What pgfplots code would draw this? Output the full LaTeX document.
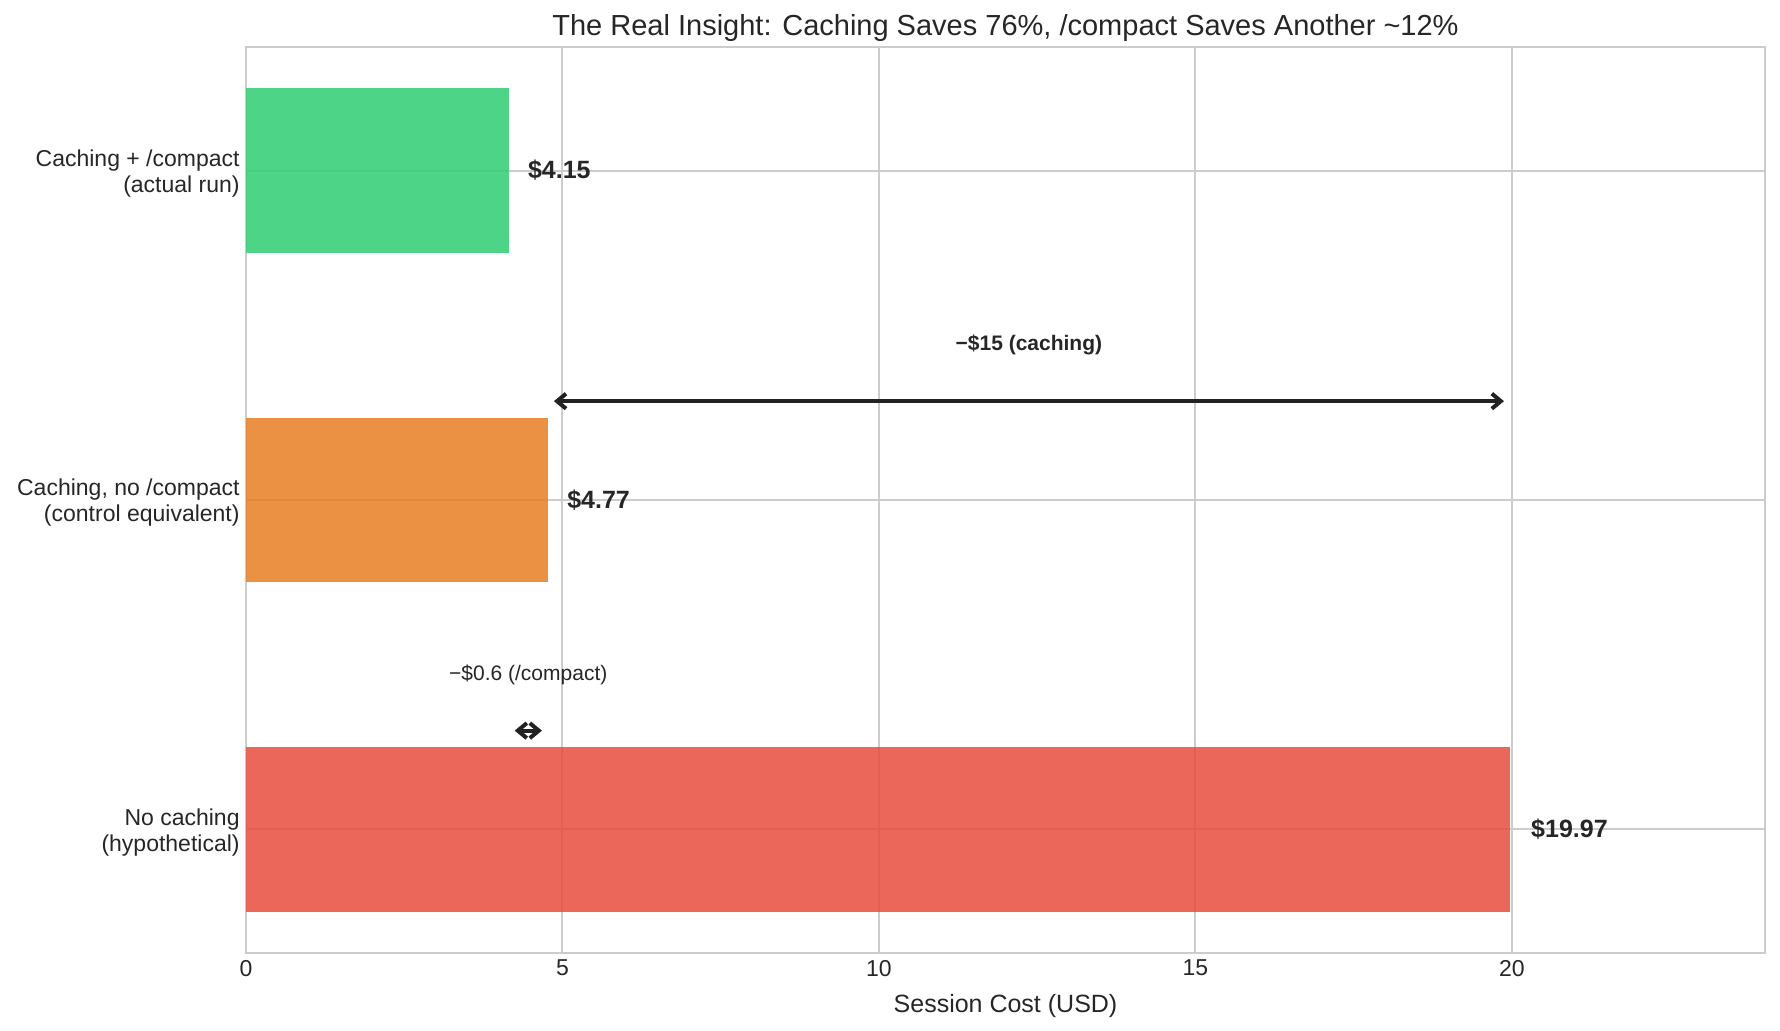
\documentclass[border=0pt]{standalone}
\usepackage{fontspec}
\setmainfont{Liberation Sans}
\usepackage{pgfplots}
\pgfplotsset{compat=1.18}
\usetikzlibrary{arrows.meta}
\definecolor{cgreen}{HTML}{2ECC71}
\definecolor{corange}{HTML}{E67E22}
\definecolor{cred}{HTML}{E74C3C}
\definecolor{gridc}{RGB}{204,204,204}
\definecolor{txt}{RGB}{38,38,38}
\definecolor{arr}{RGB}{34,34,34}
\begin{document}
\begin{tikzpicture}
\useasboundingbox (-123pt,-38.5pt) rectangle (767pt,476.5pt);
\begin{axis}[
  at={(0,0)}, anchor=south west,
  scale only axis, width=759.5pt, height=453pt,
  xmin=0, xmax=24.0, ymin=-0.375, ymax=2.375,
  xtick={0,5,10,15,20}, ytick={0,1,2},
  yticklabels={{No caching\\(hypothetical)},{Caching, no /compact\\(control equivalent)},{Caching + /compact\\(actual run)}},
  yticklabel style={align=right, font=\fontsize{11.5}{13}\selectfont, text=txt, inner sep=3pt, yshift=-1.5pt},
  xticklabel style={font=\fontsize{11.5}{13}\selectfont, text=txt},
  /pgf/number format/assume math mode=true,
  grid=major, major grid style={draw=gridc, line width=1pt},
  axis line style={draw=gridc, line width=1.2pt},
  major tick length=0pt, tick style={draw=none},
  xlabel={Session Cost (USD)},
  xlabel style={at={(axis description cs:0.5,0)}, anchor=base, yshift=-29.5pt, font=\fontsize{12.5}{14}\selectfont, text=txt},
  clip=false,
]
\addplot[xbar, bar shift=0pt, bar width=0.5, fill=cred, fill opacity=0.85, draw=none] coordinates {(19.97,0)};
\addplot[xbar, bar shift=0pt, bar width=0.5, fill=corange, fill opacity=0.85, draw=none] coordinates {(4.77,1)};
\addplot[xbar, bar shift=0pt, bar width=0.5, fill=cgreen, fill opacity=0.85, draw=none] coordinates {(4.15,2)};
\node[anchor=west, inner sep=0pt, text=txt, font=\fontsize{12.5}{14}\selectfont\bfseries] at (axis cs:20.3,0) {\$19.97};
\node[anchor=west, inner sep=0pt, text=txt, font=\fontsize{12.5}{14}\selectfont\bfseries] at (axis cs:5.07,1) {\$4.77};
\node[anchor=west, inner sep=0pt, text=txt, font=\fontsize{12.5}{14}\selectfont\bfseries] at (axis cs:4.45,2) {\$4.15};
\draw[arr, line width=2pt, shorten <=3pt, shorten >=3pt, {Straight Barb[length=4.5pt,width=7.5pt]}-{Straight Barb[length=4.5pt,width=7.5pt]}] (axis cs:4.77,1.3) -- (axis cs:19.97,1.3);
\node[text=txt, inner sep=0pt, font=\fontsize{10.5}{12}\selectfont\bfseries] at (axis cs:12.37,1.47) {−\$15 (caching)};
\draw[arr, line width=2pt, shorten <=3pt, shorten >=3pt, {Straight Barb[length=4.5pt,width=7.5pt]}-{Straight Barb[length=4.5pt,width=7.5pt]}] (axis cs:4.15,0.3) -- (axis cs:4.77,0.3);
\node[text=txt, inner sep=0pt, font=\fontsize{10.5}{12}\selectfont] at (axis cs:4.46,0.47) {−\$0.6 (/compact)};
\node[anchor=base, inner sep=0pt, text=txt, font=\fontsize{14.5}{16}\selectfont] at ([yshift=5.5pt]axis description cs:0.5,1) {The Real Insight: Caching Saves 76\%, /compact Saves Another \textasciitilde12\%};
\end{axis}
\end{tikzpicture}
\end{document}
